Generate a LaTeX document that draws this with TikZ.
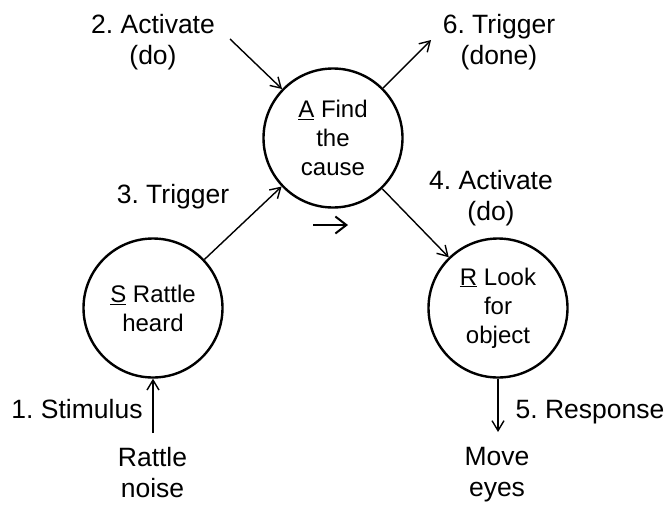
\documentclass[tikz,border=0pt]{standalone}
\usepackage{fontspec}
\setmainfont{Liberation Sans}
\usetikzlibrary{arrows.meta}
\frenchspacing
\begin{document}
\begin{tikzpicture}[x=1pt,y=-1pt,
  state/.style={circle, draw, line width=2.4pt, minimum size=139pt, inner sep=0pt,
    align=center, font=\fontsize{24}{29}\selectfont},
  lbl/.style={inner sep=0pt, align=center, font=\fontsize{26.5}{31.5}\selectfont},
  link/.style={line width=1.4pt, -{Straight Barb[length=10pt,width=12pt]}},
  ]
\useasboundingbox (0,0) rectangle (668,504);

% the three states
\node[state] (A) at (333,138) {\underline{A} Find\\the\\cause};
\node[state] (S) at (153,308) {\underline{S} Rattle\\heard};
\node[state] (R) at (498,308) {\underline{R} Look\\for\\object};

% labels
\node[lbl, anchor=north] (lact) at (153,14) {2. Activate\\(do)};
\node[lbl, anchor=north] (ldone) at (499,14) {6. Trigger\\(done)};
\node[lbl, anchor=base] (ltrig) at (173,203) {3. Trigger};
\node[lbl, anchor=north] (lact2) at (491,170) {4. Activate\\(do)};
\node[lbl, anchor=base] (lstim) at (77,418) {1. Stimulus};
\node[lbl, anchor=base] (lresp) at (590,418) {5. Response};
\node[lbl, anchor=north] (noise) at (152.5,447) {Rattle\\noise};
\node[lbl, anchor=north] (eyes) at (497,447) {Move\\eyes};

% free ends of the outer connectors
\coordinate (cin) at (230,39);
\coordinate (cout) at (431,40);
\coordinate (cstim) at (153,433);
\coordinate (cresp) at (498,432);

% connectors
\draw[link] (cin) -- (A);
\draw[link] (A) -- (cout);
\draw[link] (S) -- (A);
\draw[link] (A) -- (R);
\draw[link] (cstim) -- (S);
\draw[link] (R) -- (cresp);

% sequence arrow between the states
\coordinate (m1) at (313,225);
\coordinate (m2) at (348,225);
\draw[line width=2pt, -{Straight Barb[length=11pt,width=17pt]}] (m1) -- (m2);
\end{tikzpicture}
\end{document}
